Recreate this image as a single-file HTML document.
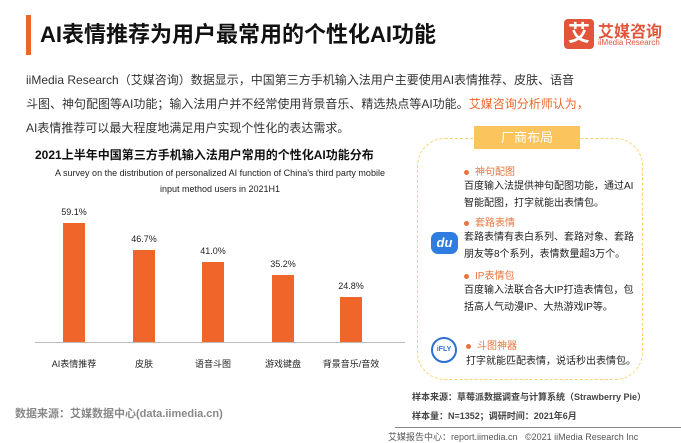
<!DOCTYPE html>
<html><head><meta charset="utf-8"><style>
body{margin:0;width:681px;height:443px;background:#fff;font-family:"Liberation Sans","Noto Sans CJK SC",sans-serif;position:relative;overflow:hidden;color:#222}
.a{position:absolute;white-space:nowrap}
.bar{position:absolute;background:#f0652a;width:22px}
.lab{position:absolute;font-size:9px;width:80px;text-align:center;color:#222}
.h{color:#e8743b;font-size:10px}
.t{font-size:10px;color:#222;line-height:17px}
.dot{display:inline-block;width:5px;height:5px;border-radius:50%;background:#e8743b;margin-right:6px;vertical-align:middle}
</style></head><body>
<div class="a" style="left:26px;top:15px;width:5px;height:40px;background:#f0652a"></div>
<div class="a" style="left:40px;top:17px;font-size:22px;font-weight:bold;color:#111">AI表情推荐为用户最常用的个性化AI功能</div>
<div class="a" style="left:564px;top:19px;width:30px;height:30px;background:#e2553a;border-radius:4px;color:#fff;font-size:22px;text-align:center;line-height:30px;font-weight:bold">艾</div>
<div class="a" style="left:598px;top:18px;font-size:16px;color:#e2553a;font-weight:bold">艾媒咨询</div>
<div class="a" style="left:598px;top:38px;font-size:8px;color:#e2553a">iiMedia Research</div>
<div class="a" style="left:26px;top:68px;font-size:12px;line-height:24px;color:#333">iiMedia Research（艾媒咨询）数据显示，中国第三方手机输入法用户主要使用AI表情推荐、皮肤、语音<br>斗图、神句配图等AI功能；输入法用户并不经常使用背景音乐、精选热点等AI功能。<span style="color:#f0652a">艾媒咨询分析师认为，</span><br>AI表情推荐可以最大程度地满足用户实现个性化的表达需求。</div>
<div class="a" style="left:35px;top:146px;font-size:12px;font-weight:bold;color:#111">2021上半年中国第三方手机输入法用户常用的个性化AI功能分布</div>
<div class="a" style="left:20px;top:165px;width:400px;text-align:center;font-size:9px;line-height:16px;color:#222;white-space:normal">A survey on the distribution of personalized AI function of China's third party mobile<br>input method users  in 2021H1</div>
<div class="a" style="left:35px;top:342px;width:370px;height:1px;background:#bbb"></div>
<div class="bar" style="left:63px;top:223px;height:119px"></div>
<div class="bar" style="left:133px;top:250px;height:92px"></div>
<div class="bar" style="left:202px;top:262px;height:80px"></div>
<div class="bar" style="left:272px;top:275px;height:67px"></div>
<div class="bar" style="left:340px;top:297px;height:45px"></div>
<div class="lab" style="left:34px;top:207px">59.1%</div>
<div class="lab" style="left:104px;top:234px">46.7%</div>
<div class="lab" style="left:173px;top:246px">41.0%</div>
<div class="lab" style="left:243px;top:259px">35.2%</div>
<div class="lab" style="left:311px;top:281px">24.8%</div>
<div class="lab" style="left:34px;top:357px">AI表情推荐</div>
<div class="lab" style="left:104px;top:357px">皮肤</div>
<div class="lab" style="left:173px;top:357px">语音斗图</div>
<div class="lab" style="left:243px;top:357px">游戏键盘</div>
<div class="lab" style="left:311px;top:357px">背景音乐/音效</div>
<div class="a" style="left:15px;top:405px;font-size:11px;color:#888;font-weight:bold">数据来源：艾媒数据中心(data.iimedia.cn)</div>
<div class="a" style="left:417px;top:138px;width:224px;height:240px;border:1.5px dashed #fbd36e;border-radius:28px"></div>
<div class="a" style="left:474px;top:126px;width:106px;height:23px;background:#fbc45c;color:#fff;font-size:13px;text-align:center;line-height:23px">厂商布局</div>
<div class="a h" style="left:464px;top:163px"><span class="dot"></span>神句配图</div>
<div class="a t" style="left:464px;top:178px">百度输入法提供神句配图功能，通过AI<br>智能配图，打字就能出表情包。</div>
<div class="a h" style="left:464px;top:214px"><span class="dot"></span>套路表情</div>
<div class="a t" style="left:464px;top:229px">套路表情有表白系列、套路对象、套路<br>朋友等8个系列，表情数量超3万个。</div>
<div class="a h" style="left:464px;top:267px"><span class="dot"></span>IP表情包</div>
<div class="a t" style="left:464px;top:282px">百度输入法联合各大IP打造表情包，包<br>括高人气动漫IP、大热游戏IP等。</div>
<div class="a h" style="left:466px;top:337px"><span class="dot"></span>斗图神器</div>
<div class="a t" style="left:466px;top:353px">打字就能匹配表情，说话秒出表情包。</div>
<div class="a" style="left:431px;top:232px;width:27px;height:22px;background:#2f7de1;border-radius:7px;color:#fff;font-size:13px;font-style:italic;text-align:center;line-height:22px;font-weight:bold">du</div>
<div class="a" style="left:431px;top:337px;width:22px;height:22px;border:2px solid #2f6fd6;border-radius:50%;color:#2f6fd6;font-size:7px;text-align:center;line-height:22px;font-weight:bold">iFLY</div>
<div class="a" style="left:412px;top:390px;font-size:9px;font-weight:bold;color:#444">样本来源：草莓派数据调查与计算系统（Strawberry Pie）</div>
<div class="a" style="left:412px;top:409px;font-size:9px;font-weight:bold;color:#444">样本量：N=1352；调研时间：2021年6月</div>
<div class="a" style="left:395px;top:427px;width:286px;height:1px;background:#888"></div>
<div class="a" style="left:388px;top:430px;font-size:9px;color:#555">艾媒报告中心：report.iimedia.cn &nbsp;&nbsp;©2021 iiMedia Research Inc</div>
</body></html>
